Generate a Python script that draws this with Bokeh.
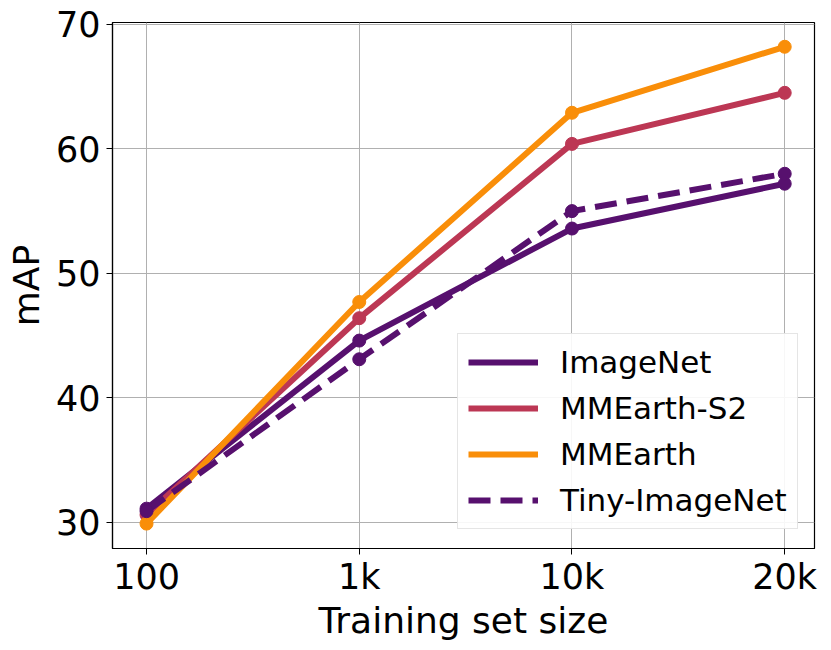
from bokeh.plotting import figure
from bokeh.models import FixedTicker, Legend, LegendItem, Range1d
from bokeh.embed import file_html
from bokeh.resources import INLINE

sizes = ["100", "1k", "10k", "20k"]
imagenet = [31.1, 44.6, 53.6, 57.2]
mmearth_s2 = [30.6, 46.4, 60.4, 64.5]
mmearth = [29.9, 47.7, 62.9, 68.2]
tiny_imagenet = [30.9, 43.1, 55.0, 58.0]

series = [
    ("ImageNet", imagenet, "#57106e", "solid"),
    ("MMEarth-S2", mmearth_s2, "#bc3754", "solid"),
    ("MMEarth", mmearth, "#f98e09", "solid"),
    ("Tiny-ImageNet", tiny_imagenet, "#57106e", "22 10"),
]

xs = list(range(len(sizes)))
FONT = "DejaVu Sans"

p = figure(width=823, height=643, output_backend="svg", toolbar_location=None,
           x_range=Range1d(-0.16, 3.14), y_range=Range1d(27.9, 70.15),
           min_border_left=112, min_border_right=9, min_border_top=22, min_border_bottom=92)
p.outline_line_color = "black"
p.outline_line_width = 1.2

items = []
for name, vals, col, dash in series:
    r = p.line(xs, vals, line_color=col, line_width=6, line_dash=dash)
    c = p.scatter(xs, vals, size=13, fill_color=col, line_color=col)
    items.append(LegendItem(label=name, renderers=[r]))

p.xaxis.ticker = FixedTicker(ticks=xs)
p.xaxis.major_label_overrides = {i: s for i, s in enumerate(sizes)}
p.yaxis.ticker = FixedTicker(ticks=[30, 40, 50, 60, 70])

for ax in (p.xaxis, p.yaxis):
    ax.major_label_text_font = FONT
    ax.major_label_text_font_size = "35px"
    ax.major_label_text_color = "black"
    ax.axis_label_text_font = FONT
    ax.axis_label_text_font_size = "36px"
    ax.axis_label_text_font_style = "normal"
    ax.axis_label_text_color = "black"
    ax.axis_line_color = "black"
    ax.axis_line_width = 1.2
    ax.major_tick_out = 6
    ax.major_tick_in = 0
    ax.minor_tick_line_color = None
    ax.major_tick_line_color = "black"
p.xaxis.axis_label = "Training set size"
p.yaxis.axis_label = "mAP"
p.xaxis.major_label_standoff = 2
p.yaxis.major_label_standoff = 6
p.xaxis.axis_label_standoff = 0
p.yaxis.axis_label_standoff = 6

p.xgrid.ticker = FixedTicker(ticks=xs)
p.grid.grid_line_color = "#b0b0b0"
p.grid.grid_line_width = 1

legend = Legend(items=items, location=(345, 19))
legend.label_text_font = FONT
legend.label_text_font_size = "31px"
legend.label_text_color = "black"
legend.glyph_width = 70
legend.glyph_height = 30
legend.label_height = 30
legend.spacing = 10
legend.label_standoff = 22
legend.padding = 10
legend.margin = 0
legend.border_line_color = "#cccccc"
legend.border_line_width = 1
legend.background_fill_alpha = 0.9
p.add_layout(legend, "center")

open("out.html", "w").write(file_html(p, INLINE))
